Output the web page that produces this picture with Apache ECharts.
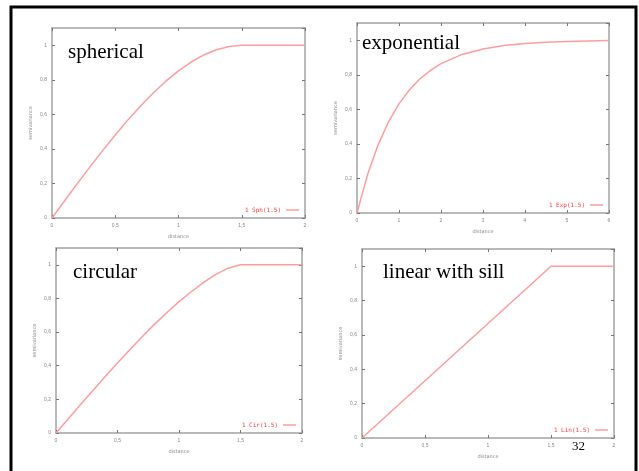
<!DOCTYPE html>
<html>
<head>
<meta charset="utf-8">
<script src="https://cdn.jsdelivr.net/npm/echarts@6/dist/echarts.min.js"></script>
<style>
  html, body { margin: 0; padding: 0; background: #fff; }
  #main { width: 639px; height: 471px; }
</style>
</head>
<body>
<div id="main"></div>
<script type="text/javascript">
    // semivariogram models, values
    var sphDist = [0, 0.1, 0.2, 0.3, 0.4, 0.5, 0.6, 0.7, 0.8, 0.9, 1.0, 1.1, 1.2, 1.3, 1.4, 1.5, 2];
    var sphVals = [0, 0.10, 0.199, 0.296, 0.39, 0.481, 0.568, 0.649, 0.724, 0.792, 0.852, 0.903, 0.944, 0.974, 0.993, 1, 1];

    var expDist = [0, 0.25, 0.5, 0.75, 1, 1.25, 1.5, 1.75, 2, 2.5, 3, 3.5, 4, 4.5, 5, 5.5, 6];
    var expVals = [0, 0.221, 0.393, 0.528, 0.632, 0.713, 0.777, 0.826, 0.865, 0.918, 0.950, 0.970, 0.982, 0.989, 0.993, 0.996, 0.998];

    var cirDist = [0, 0.1, 0.2, 0.3, 0.4, 0.5, 0.6, 0.7, 0.8, 0.9, 1.0, 1.1, 1.2, 1.3, 1.4, 1.5, 2];
    var cirVals = [0, 0.085, 0.169, 0.253, 0.336, 0.416, 0.495, 0.572, 0.646, 0.715, 0.781, 0.840, 0.896, 0.943, 0.980, 1, 1];

    var linDist = [0, 1.5, 2];
    var linVals = [0, 1, 1];

    var panelNames = ['spherical', 'exponential', 'circular', 'linear with sill'];
    var legendNames = ['1 Sph(1.5)', '1 Exp(1.5)', '1 Cir(1.5)', '1 Lin(1.5)'];
    var xMax = [2, 6, 2, 2];
    var xStep = [0.5, 1, 0.5, 0.5];

    function pairs(xs, ys) {
        return xs.map(function (x, i) { return [x, ys[i]]; });
    }
    var seriesData = [pairs(sphDist, sphVals), pairs(expDist, expVals), pairs(cirDist, cirVals), pairs(linDist, linVals)];

    var grids = [
        {left: 52, top: 28, width: 253, height: 190},
        {left: 357, top: 23, width: 252, height: 190},
        {left: 56, top: 248, width: 246, height: 185},
        {left: 362, top: 249, width: 252, height: 189}
    ];
    // big labels inside each plot
    var labelPos = [[68, 42], [362, 33], [73, 262], [383, 262]];

    var frameColor = '#a3a3a3';
    var tickColor = '#777';
    var curveColor = '#ff9c9c';
    var tickFont = {fontSize: 5, color: '#888', fontFamily: 'DejaVu Sans'};

    function comma(v) { return String(v).replace('.', ','); }

    // one framed axis side (gnuplot style: ticks inside, mirrored)
    function side(i, pos, isX, withLabels) {
        var ax = {
            type: 'value', gridIndex: i, position: pos,
            min: 0,
            max: isX ? xMax[i] : 1.1,
            interval: isX ? xStep[i] : 0.2,
            axisLine: {show: true, onZero: false, lineStyle: {color: frameColor, width: 1.5}},
            axisTick: {show: true, inside: true, length: 3, lineStyle: {color: tickColor}},
            axisLabel: {show: false},
            splitLine: {show: false}
        };
        if (withLabels) {
            ax.axisLabel = {show: true, margin: 5, fontSize: 5, color: '#888', showMaxLabel: isX, formatter: comma};
            ax.name = isX ? 'distance' : 'semivariance';
            ax.nameLocation = 'middle';
            ax.nameGap = isX ? 16 : 19;
            ax.nameTextStyle = tickFont;
        }
        return ax;
    }

    var xAxes = [], yAxes = [], series = [], legends = [], titles = [];
    grids.forEach(function (g, i) {
        xAxes.push(side(i, 'bottom', true, true));
        xAxes.push(side(i, 'top', true, false));
        yAxes.push(side(i, 'left', false, true));
        yAxes.push(side(i, 'right', false, false));
        series.push({
            name: legendNames[i],
            type: 'line',
            xAxisIndex: i * 2, yAxisIndex: i * 2,
            data: seriesData[i],
            symbol: 'none',
            lineStyle: {color: curveColor, width: 1.5},
            itemStyle: {color: curveColor}
        });
        legends.push({
            data: [legendNames[i]],
            right: 639 - (g.left + g.width) + 6,
            top: g.top + g.height - 11,
            align: 'right',
            icon: 'rect',
            itemWidth: 13, itemHeight: 1.5, itemGap: 4,
            padding: 0,
            textStyle: {fontSize: 6, color: '#ff3b3b', fontFamily: 'DejaVu Sans Mono'}
        });
        titles.push({
            text: panelNames[i],
            left: labelPos[i][0], top: labelPos[i][1],
            padding: 0,
            textStyle: {fontSize: 21, fontWeight: 'normal', color: '#000', fontFamily: 'Liberation Serif'}
        });
    });

    var myChart = echarts.init(document.getElementById('main'));
    var option = {
        animation: false,
        backgroundColor: '#fff',
        title: titles,
        legend: legends,
        grid: grids,
        xAxis: xAxes,
        yAxis: yAxes,
        series: series,
        graphic: [
            {
                type: 'polyline',
                shape: {points: [[11, 471], [11, 7], [636, 7], [636, 471]]},
                style: {stroke: '#000', lineWidth: 3, fill: null}
            },
            {
                type: 'text', left: 572, top: 440,
                style: {text: '32', fontSize: 13, fontFamily: 'Liberation Serif', fill: '#000'}
            }
        ]
    };
    myChart.setOption(option);
</script>
</body>
</html>
